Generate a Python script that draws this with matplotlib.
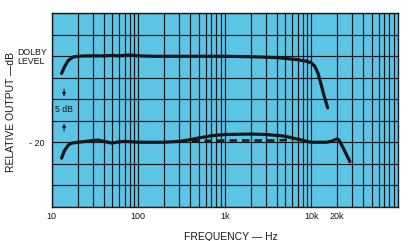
import numpy as np
import matplotlib
matplotlib.use("Agg")
import matplotlib.pyplot as plt

plt.rcParams['font.family'] = ['Liberation Sans', 'DejaVu Sans']

# Dolby level response (0 dB reference)
f_top = [13, 14, 15.5, 17.5, 20, 25, 30, 40, 50, 60, 70, 80, 100, 150, 200, 300,
         500, 1000, 2000, 4000, 7000, 9000, 10000, 11000, 12000, 13000, 14000, 15500]
db_top = [-4, -2.5, -1, -0.2, 0, 0.1, 0.1, 0.1, 0.2, 0.1, 0.2, 0.3, 0.1, 0, 0, 0,
          0, 0, -0.1, -0.3, -0.8, -1.2, -1.5, -2.3, -4, -6.5, -9, -12]

# -20 dB response
f_low = [13, 14, 15.5, 17, 20, 25, 30, 35, 40, 50, 60, 70, 100, 200, 300, 400, 500,
         700, 1000, 2000, 3000, 5000, 7000, 10000, 15000, 17000, 19000, 20000, 21000,
         23000, 25000, 28000]
db_low = [-23.7, -22, -20.7, -20.2, -20, -19.8, -19.6, -19.5, -19.8, -20.2, -19.9, -19.8,
          -20, -20, -19.8, -19.4, -19, -18.5, -18.2, -18.1, -18.2, -18.6, -19.3, -20,
          -20, -19.8, -19.4, -19.2, -19.5, -21, -22.5, -24.5]

# dashed -20 dB variant
f_dash = [300, 500, 1000, 2000, 4000, 6000]
db_dash = [-19.9, -19.7, -19.6, -19.6, -19.6, -19.4]

xticks = [10, 100, 1000, 10000, 20000]
xlabels = ["10", "100", "1k", "10k", "20k"]

BG = "#5cc5e6"
INK = "#15161c"

fig = plt.figure(figsize=(4.08, 2.41), dpi=100)
ax = fig.add_axes([51.7 / 408, 1 - 206.7 / 241, 346 / 408, 193.4 / 241])
ax.set_facecolor(BG)
ax.set_xscale("log")
ax.set_xlim(10, 100000)
ax.set_ylim(-35, 10)

# graph paper grid
for dec in [10, 100, 1000, 10000]:
    for m in range(1, 10):
        ax.axvline(dec * m, color=INK, lw=0.85, zorder=1)
for y in range(-35, 11, 5):
    ax.axhline(y, color=INK, lw=0.85, zorder=1)
for s in ax.spines.values():
    s.set_color(INK)
    s.set_linewidth(1.0)

ax.plot(f_top, db_top, color=INK, lw=2.3, solid_capstyle="round", zorder=3)
ax.plot(f_low, db_low, color=INK, lw=2.3, solid_capstyle="round", zorder=3)
ax.plot(f_dash, db_dash, color=INK, lw=1.8, dashes=(3, 2), zorder=3)

ax.set_xticks(xticks)
ax.set_xticklabels(xlabels, fontsize=6.5, color=INK)
ax.xaxis.set_minor_locator(matplotlib.ticker.NullLocator())
ax.tick_params(axis="x", length=0, pad=4)
ax.set_yticks([-20])
ax.set_yticklabels(["- 20"], fontsize=6.5, color=INK)
ax.tick_params(axis="y", length=0, pad=5)

fig.text(17 / 408, 1 - 57 / 241, "DOLBY\nLEVEL", fontsize=6.3, color=INK,
         ha="left", va="center", linespacing=0.95)

# 5 dB dimension marker
xa = 13.9
ax.annotate("", xy=(xa, -10), xytext=(xa, -7),
            arrowprops=dict(arrowstyle="-|>", color=INK, lw=0.8, mutation_scale=5), zorder=4)
ax.annotate("", xy=(xa, -15), xytext=(xa, -18),
            arrowprops=dict(arrowstyle="-|>", color=INK, lw=0.8, mutation_scale=5), zorder=4)
ax.text(xa, -12.5, "5 dB", fontsize=6.3, color=INK, ha="center", va="center", zorder=4)

fig.text(231 / 408, 1 - 237 / 241, "FREQUENCY \u2014 Hz", fontsize=7.5, color=INK,
         ha="center", va="center")
fig.text(11 / 408, 1 - 112 / 241, "RELATIVE OUTPUT \u2014dB", fontsize=7.5, color=INK,
         ha="center", va="center", rotation=90)

fig.savefig("out.png", dpi=100, facecolor="white")
